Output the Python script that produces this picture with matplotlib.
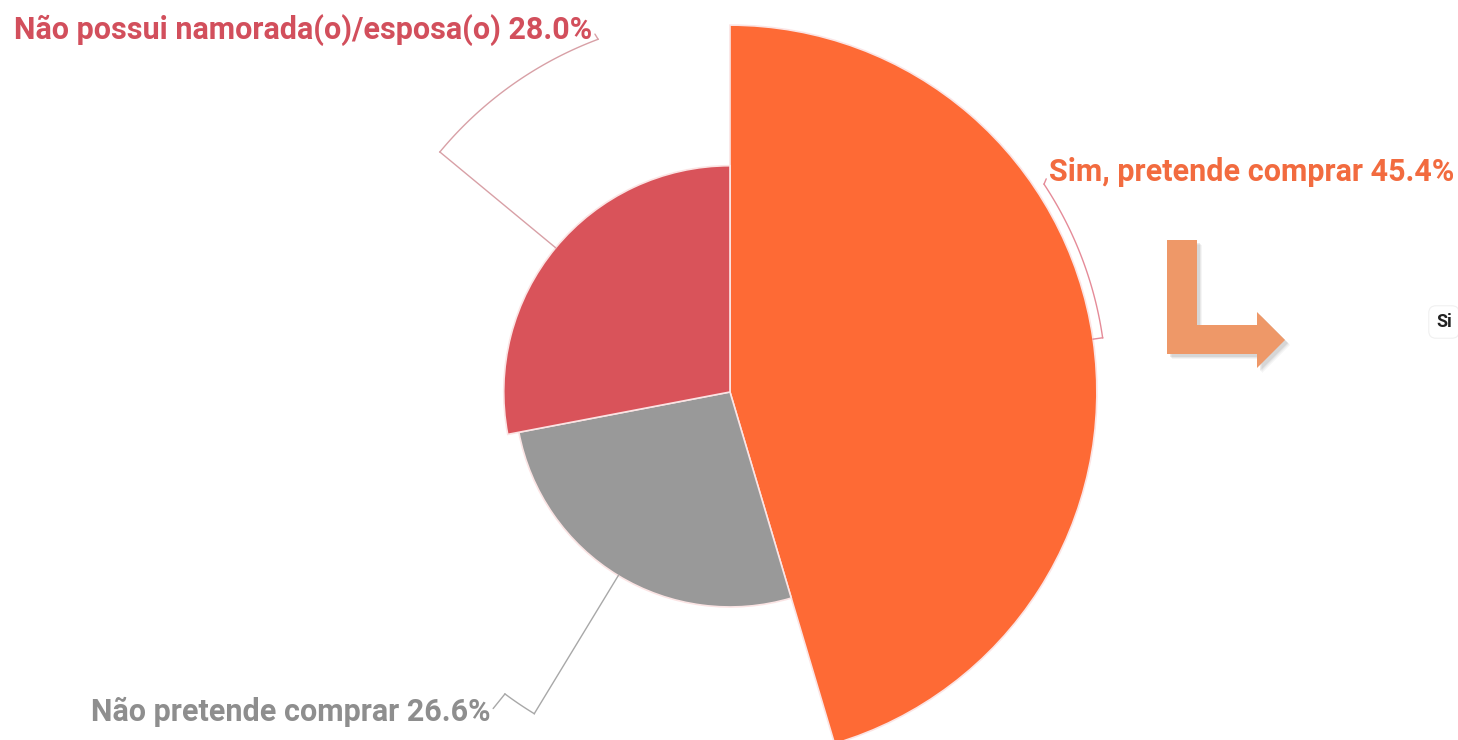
import numpy as np
import matplotlib
matplotlib.use("Agg")
import matplotlib.pyplot as plt
from matplotlib.patches import Polygon

# Dados: intenção de compra (gráfico de rosa, raio proporcional ao valor)
categorias = ['Sim, pretende comprar', 'Não pretende comprar', 'Não possui namorada(o)/esposa(o)']
valores = [45.4, 26.6, 28.0]
cores = ['#FE6A35', '#999999', '#D9535A']
cores_texto = ['#F26B3F', '#8E8E8E', '#D24F5C']
cores_linha = ['#E58B98', '#A8A8A8', '#D8A0A6']

plt.rcParams['font.family'] = ['Roboto', 'DejaVu Sans']

W, H = 1458, 740
fig = plt.figure(figsize=(W / 100, H / 100), dpi=100)

# eixo polar: centro em (730, 392) px, raio de 400 px
cx, cy, R = 730, 392, 400
ax = fig.add_axes([(cx - R) / W, (H - cy - R) / H, 2 * R / W, 2 * R / H],
                  projection='polar')
ax.set_theta_zero_location('N')
ax.set_theta_direction(-1)
ax.set_ylim(0, 49.5)
ax.set_axis_off()

total = sum(valores)
larguras = [2 * np.pi * v / total for v in valores]
inicios = np.concatenate([[0], np.cumsum(larguras)[:-1]])
centros = inicios + np.array(larguras) / 2

ax.bar(centros, valores, width=larguras, bottom=0, color=cores,
       edgecolor='#FBE4E4', linewidth=1.2, align='center')

# linhas-guia: radial até r_guia, depois arco até o ângulo do rótulo
r_guia = 46.6
ang_rotulo = [56.5, 216.7, 339.5]          # graus
offsets = [(3.6, 8.6), (-10.5, -13), (-4.3, 7.0)]   # pontos
alinh = ['left', 'right', 'right']
for i, cat in enumerate(categorias):
    a0 = centros[i]
    a1 = np.deg2rad(ang_rotulo[i])
    ax.plot([a0, a0], [valores[i], r_guia], color=cores_linha[i], lw=1)
    arco = np.linspace(a0, a1, 60)
    ax.plot(arco, np.full_like(arco, r_guia), color=cores_linha[i], lw=1)
    ax.annotate(f'{cat} {valores[i]:.1f}%', xy=(a1, r_guia),
                xytext=offsets[i], textcoords='offset points',
                ha=alinh[i], va='center', fontsize=22, fontweight='bold',
                color=cores_texto[i],
                arrowprops=dict(arrowstyle='-', color=cores_linha[i], lw=1,
                                shrinkA=0, shrinkB=0,
                                relpos=(0, 0.5) if alinh[i] == 'left' else (1, 0.5)))

# seta decorativa em L e texto cortado à direita (coordenadas em pixels)
ov = fig.add_axes([0, 0, 1, 1])
ov.set_xlim(0, W)
ov.set_ylim(H, 0)
ov.set_axis_off()
seta = np.array([[1167, 240], [1197, 240], [1197, 325], [1257, 325], [1257, 312],
                 [1285, 340], [1257, 368], [1257, 354], [1167, 354]])
for k, a in [(5, 0.06), (4, 0.08), (3, 0.12)]:
    ov.add_patch(Polygon(seta + [k, k], closed=True, color='#555555', alpha=a, lw=0))
ov.add_patch(Polygon(seta, closed=True, color='#EE9868', lw=0))
ov.text(1436, 322, 'Si', fontsize=13, fontweight='bold', color='#222222',
        ha='left', va='center',
        bbox=dict(boxstyle='round,pad=0.4', fc='white', ec='#F0F0F0', lw=0.8))

fig.savefig('out.png', dpi=100)
